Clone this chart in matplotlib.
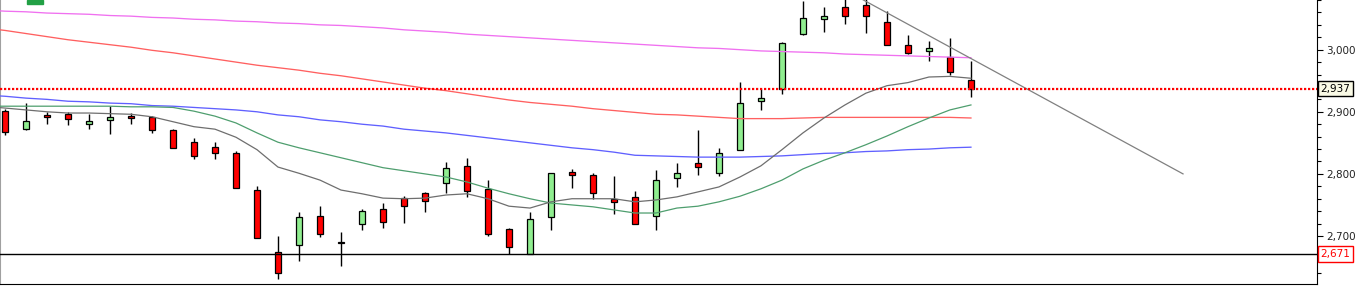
import matplotlib
matplotlib.use('Agg')
import matplotlib.pyplot as plt
from matplotlib.patches import Rectangle
from matplotlib.ticker import MultipleLocator, FuncFormatter
import numpy as np

# Kerzen (OHLC)
opens = [2902, 2872, 2895, 2896, 2881, 2887, 2894, 2891, 2870, 2852, 2844, 2833, 2774, 2675, 2685, 2732,
         2691, 2720, 2743, 2761, 2770, 2786, 2812, 2775, 2711, 2671, 2730, 2803, 2799, 2759, 2762, 2732,
         2793, 2817, 2801, 2838, 2917, 2937, 3025, 3050, 3069, 3072, 3044, 3008, 2998, 2989, 2951]
highs = [2904, 2914, 2900, 2899, 2896, 2910, 2898, 2893, 2873, 2857, 2852, 2837, 2780, 2700, 2738, 2748,
         2706, 2743, 2753, 2764, 2771, 2819, 2826, 2790, 2713, 2739, 2801, 2808, 2801, 2797, 2772, 2806,
         2818, 2871, 2842, 2948, 2936, 3012, 3079, 3069, 3085, 3085, 3062, 3024, 3014, 3019, 2982]
lows = [2862, 2870, 2881, 2878, 2873, 2865, 2881, 2866, 2841, 2824, 2824, 2777, 2696, 2631, 2660, 2699,
        2651, 2710, 2713, 2721, 2738, 2769, 2762, 2700, 2671, 2671, 2710, 2778, 2759, 2736, 2720, 2710,
        2779, 2799, 2797, 2838, 2903, 2928, 3023, 3029, 3042, 3027, 3007, 2993, 2982, 2960, 2924]
closes = [2868, 2885, 2891, 2889, 2885, 2891, 2890, 2870, 2841, 2829, 2833, 2778, 2696, 2640, 2730, 2704,
          2688, 2740, 2722, 2749, 2757, 2809, 2772, 2704, 2682, 2727, 2801, 2799, 2769, 2754, 2720, 2790,
          2801, 2811, 2833, 2914, 2922, 3010, 3051, 3054, 3055, 3054, 3007, 2994, 3002, 2964, 2937]

# Durchschnittslinien, Index -1 bis 46
ma_gray = [2909, 2906, 2903, 2900, 2898, 2898, 2897, 2896, 2892, 2884, 2876, 2872, 2859, 2839, 2811, 2801,
           2790, 2774, 2768, 2761, 2760, 2761, 2766, 2768, 2760, 2748, 2745, 2755, 2760, 2760, 2760, 2755,
           2758, 2763, 2771, 2779, 2795, 2813, 2839, 2866, 2890, 2911, 2930, 2942, 2947, 2956, 2957, 2954]
ma_green = [2909, 2909, 2909, 2909, 2909, 2909, 2909, 2908, 2908, 2907, 2901, 2893, 2882, 2866, 2851, 2842,
            2834, 2826, 2818, 2810, 2805, 2800, 2795, 2787, 2777, 2768, 2760, 2753, 2750, 2747, 2742, 2737,
            2737, 2745, 2748, 2755, 2764, 2776, 2790, 2808, 2822, 2834, 2847, 2861, 2876, 2890, 2903, 2911]
ma_blue = [2927, 2925, 2922, 2920, 2917, 2916, 2914, 2913, 2910, 2909, 2907, 2905, 2903, 2900, 2895, 2892,
           2887, 2884, 2880, 2877, 2872, 2869, 2866, 2862, 2858, 2854, 2850, 2846, 2842, 2839, 2835, 2830,
           2829, 2828, 2827, 2827, 2827, 2828, 2829, 2831, 2833, 2834, 2836, 2837, 2839, 2840, 2842, 2843]
ma_red = [3035, 3031, 3026, 3021, 3016, 3012, 3008, 3004, 2999, 2995, 2990, 2985, 2980, 2975, 2971, 2967,
          2962, 2958, 2953, 2948, 2943, 2938, 2934, 2929, 2924, 2919, 2915, 2912, 2909, 2905, 2902, 2899,
          2896, 2895, 2893, 2891, 2889, 2889, 2889, 2890, 2891, 2891, 2891, 2891, 2891, 2891, 2891, 2890]
ma_magenta = [3064, 3062, 3061, 3059, 3058, 3057, 3055, 3054, 3052, 3051, 3049, 3048, 3046, 3045, 3043, 3042,
              3040, 3039, 3037, 3035, 3032, 3030, 3028, 3025, 3023, 3021, 3019, 3017, 3015, 3013, 3011, 3009,
              3007, 3005, 3003, 3002, 3000, 2998, 2997, 2996, 2995, 2993, 2992, 2991, 2990, 2989, 2988, 2987]

# Trendlinie und Marken
trend_x = [40.5, 56.1]
trend_y = [3087, 2800]
last_price = 2937
support = 2671

idx = np.arange(len(opens))
ma_idx = np.arange(-1, len(opens))

fig = plt.figure(figsize=(13.63, 2.88), dpi=100)
ax = fig.add_axes([0, 4 / 288, 1317 / 1363, 284 / 288])

o = np.array(opens)
c = np.array(closes)
farben = np.where(c >= o, '#90ee90', '#ff0000')
ax.vlines(idx, lows, highs, color='black', lw=1, zorder=2)
ax.bar(idx, np.abs(c - o), bottom=np.minimum(o, c), width=0.29, color=farben,
       edgecolor='black', linewidth=0.9, zorder=3)

ax.plot(ma_idx, ma_magenta, color='#f070f0', lw=0.95, zorder=4)
ax.plot(ma_idx, ma_red, color='#ff6060', lw=0.95, zorder=4)
ax.plot(ma_idx, ma_blue, color='#6060ff', lw=0.95, zorder=4)
ax.plot(ma_idx, ma_green, color='#4e9e6e', lw=0.9, zorder=4)
ax.plot(ma_idx, ma_gray, color='#6e6e6e', lw=0.9, zorder=4)
ax.plot(trend_x, trend_y, color='#808080', lw=0.9, zorder=4)

ax.axhline(last_price, color='red', lw=1.6, linestyle=(0, (1, 0.8)), zorder=5)
ax.axhline(support, color='black', lw=1.0, zorder=5)

ax.set_xlim(-0.238, 62.48)
ax.set_ylim(2622.7, 3080)

# Achsen
ax.spines['top'].set_visible(False)
ax.spines['left'].set_color('#a0a0a0')
ax.spines['left'].set_linewidth(1.5)
ax.spines['bottom'].set_color('black')
ax.spines['right'].set_color('black')
ax.set_xticks([])
ax.yaxis.tick_right()
ax.yaxis.set_major_locator(MultipleLocator(100))
ax.yaxis.set_minor_locator(MultipleLocator(20))
ax.yaxis.set_major_formatter(FuncFormatter(lambda v, p: f'{v:,.0f}'))
ax.tick_params(axis='y', which='major', length=4.5, width=0.8, pad=2.2, labelsize=7.5, labelcolor='#222222')
ax.tick_params(axis='y', which='minor', length=3, width=0.8)

ax.annotate(f'{last_price:,}', xy=(1, last_price), xycoords=('axes fraction', 'data'), xytext=(2.4, 0),
            textcoords='offset points', ha='left', va='center', fontsize=7.5, color='black',
            bbox=dict(boxstyle='square,pad=0.25', fc='#fafae6', ec='black', lw=1), annotation_clip=False)
ax.annotate(f'{support:,}', xy=(1, support), xycoords=('axes fraction', 'data'), xytext=(2.4, 0),
            textcoords='offset points', ha='left', va='center', fontsize=7.5, color='red',
            bbox=dict(boxstyle='square,pad=0.25', fc='white', ec='red', lw=1), annotation_clip=False)

fig.add_artist(Rectangle((27 / 1363, 1 - 3.5 / 288), 16 / 1363, 3.5 / 288,
                         transform=fig.transFigure, color='#22a045'))

fig.savefig('out.png', dpi=100)
